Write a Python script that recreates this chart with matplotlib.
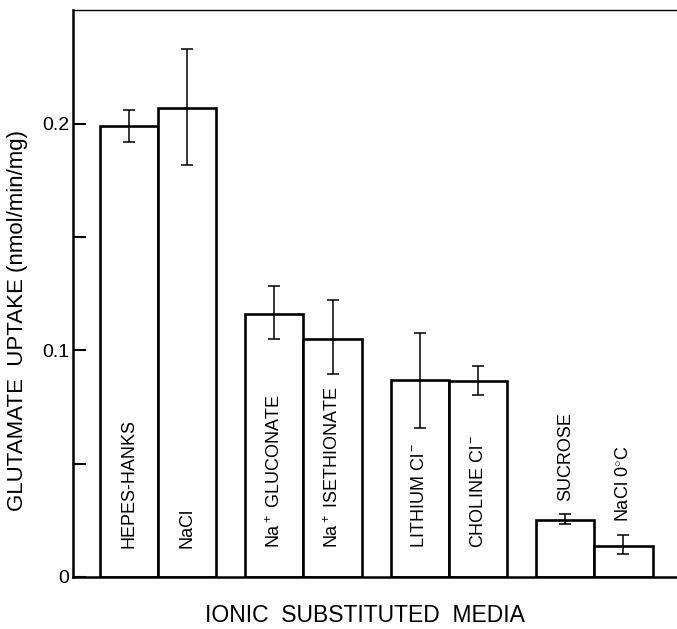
import matplotlib
matplotlib.use("Agg")
import matplotlib.pyplot as plt
import numpy as np

plt.rcParams['font.family'] = ['Liberation Sans', 'DejaVu Sans']
plt.rcParams['mathtext.fontset'] = 'custom'
plt.rcParams['mathtext.rm'] = 'Liberation Sans'
plt.rcParams['mathtext.it'] = 'Liberation Sans'

# Data
media = ["HEPES-HANKS", "NaCl", "Na$^+$ GLUCONATE", "Na$^+$ ISETHIONATE",
         "LITHIUM Cl$^-$", "CHOLINE Cl$^-$", "SUCROSE", "NaCl 0$^{\\circ}$C"]
uptake = [0.199, 0.207, 0.116, 0.105, 0.087, 0.0865, 0.025, 0.0137]
err_low = [0.192, 0.182, 0.105, 0.0896, 0.0658, 0.0804, 0.0234, 0.0102]
err_high = [0.206, 0.233, 0.1285, 0.1223, 0.1077, 0.0932, 0.0278, 0.0185]
group = [0, 0, 1, 1, 2, 2, 3, 3]
yticks = [0, 0.05, 0.1, 0.15, 0.2]
yticklabels = ["0", "", "0.1", "", "0.2"]

uptake = np.array(uptake)
yerr = [uptake - np.array(err_low), np.array(err_high) - uptake]
x = np.array([g * 2.5 + (i % 2) for i, g in enumerate(group)])

fig = plt.figure(figsize=(6.77, 6.29), dpi=100)
ax = fig.add_axes([0.108, 0.083, 0.892, 0.901])

ax.bar(x, uptake, width=1.0, color="white", edgecolor="black", linewidth=1.9)
ax.errorbar(x, uptake, yerr=yerr, fmt="none", ecolor="black",
            elinewidth=1.1, capsize=4.5, capthick=1.1)

for xi, val, hi, name in zip(x, uptake, err_high, media):
    if val < 0.05:
        ty = hi + 0.0055
    else:
        ty = 0.0125
    ax.text(xi, ty, name, rotation=90, ha="center", va="bottom", fontsize=13)

ax.set_xlim(-0.96, 9.42)
ax.set_ylim(0, 0.2503)
ax.set_xticks([])
ax.set_yticks(yticks)
ax.set_yticklabels(yticklabels, fontsize=14)
ax.tick_params(axis="y", direction="in", length=9, width=1.5, pad=3)

ax.spines["right"].set_visible(False)
ax.spines["left"].set_linewidth(1.8)
ax.spines["bottom"].set_linewidth(1.8)
ax.spines["top"].set_linewidth(1.0)

ax.set_ylabel("GLUTAMATE  UPTAKE (nmol/min/mg)", fontsize=16)
ax.yaxis.set_label_coords(-0.075, 0.453)

fig.text(365 / 677, 1 - 615 / 629, "IONIC  SUBSTITUTED  MEDIA",
         ha="center", va="center", fontsize=16.5)

fig.savefig("out.png", dpi=100)
